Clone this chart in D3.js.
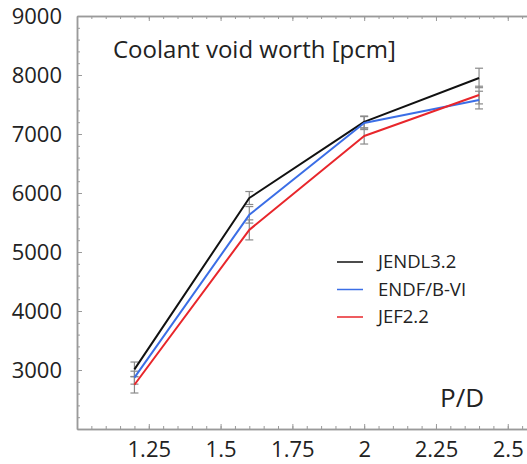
<!DOCTYPE html>
<html>
<head>
<meta charset="utf-8">
<script src="https://cdn.jsdelivr.net/npm/d3@7"></script>
<style>
  html, body { margin: 0; padding: 0; background: #fff; }
  svg { display: block; font-family: "Open Sans", sans-serif; }
</style>
</head>
<body>
<svg id="chart" width="527" height="464"></svg>
<script>
// P/D values and coolant void worth [pcm]
const pitchRatios = [1.2, 1.6, 2.0, 2.4];
const jendlValues = [3010, 5915, 7205, 7950];
const endfValues = [2870, 5630, 7185, 7575];
const jefValues = [2750, 5375, 6965, 7660];
const jendlErrors = [125, 110, 100, 165];
const endfErrors = [110, 140, 110, 150];
const jefErrors = [140, 170, 135, 150];

const xTicks = [1.25, 1.5, 1.75, 2, 2.25, 2.5];
const yTicks = [3000, 4000, 5000, 6000, 7000, 8000, 9000];

const seriesNames = ["JENDL3.2", "ENDF/B-VI", "JEF2.2"];
const seriesColors = ["#111111", "#3b6ee6", "#e8262b"];

const series = [
  { name: seriesNames[0], color: seriesColors[0], values: jendlValues, errors: jendlErrors },
  { name: seriesNames[1], color: seriesColors[1], values: endfValues, errors: endfErrors },
  { name: seriesNames[2], color: seriesColors[2], values: jefValues, errors: jefErrors },
];

const svg = d3.select("#chart");
const frame = { left: 77, right: 527, top: 16, bottom: 429 };
const axisColor = "#9a9a9a";

const x = d3.scaleLinear().domain([1.0, 2.567]).range([frame.left, frame.right]);
const y = d3.scaleLinear().domain([2000, 9000]).range([frame.bottom, frame.top]);

const minorX = d3.range(1.05, 2.56, 0.05);
const minorY = d3.range(2200, 9000, 200);

// Axes: ticks point into the plot
const styleAxis = (g) => {
  g.selectAll("path.domain").attr("stroke", axisColor).attr("stroke-width", 1.5);
  g.selectAll(".tick line").attr("stroke", axisColor).attr("stroke-width", 1);
};

svg.append("g")
  .attr("transform", `translate(0,${frame.bottom})`)
  .call(d3.axisBottom(x).tickValues(minorX).tickSize(-3).tickSizeOuter(0).tickFormat(""))
  .call(styleAxis);

svg.append("g")
  .attr("transform", `translate(0,${frame.bottom})`)
  .call(d3.axisBottom(x).tickValues(xTicks).tickSize(-5).tickSizeOuter(0).tickPadding(12).tickFormat(d3.format("~g")))
  .call(styleAxis)
  .call((g) => g.selectAll("text").attr("font-size", 22).attr("fill", "#222").attr("font-family", "Open Sans"));

svg.append("g")
  .attr("transform", `translate(0,${frame.top})`)
  .call(d3.axisTop(x).tickValues(minorX).tickSize(-3).tickSizeOuter(0).tickFormat(""))
  .call(styleAxis);

svg.append("g")
  .attr("transform", `translate(0,${frame.top})`)
  .call(d3.axisTop(x).tickValues(xTicks).tickSize(-5).tickSizeOuter(0).tickFormat(""))
  .call(styleAxis);

svg.append("g")
  .attr("transform", `translate(${frame.left},0)`)
  .call(d3.axisLeft(y).tickValues(minorY).tickSize(-3).tickSizeOuter(0).tickFormat(""))
  .call(styleAxis);

svg.append("g")
  .attr("transform", `translate(${frame.left},0)`)
  .call(d3.axisLeft(y).tickValues(yTicks).tickSize(-5).tickSizeOuter(0).tickPadding(15).tickFormat(d3.format("d")))
  .call(styleAxis)
  .call((g) => g.selectAll("text").attr("font-size", 22).attr("fill", "#222").attr("font-family", "Open Sans"));

// Error bars
const errGroup = svg.append("g").attr("stroke", "#8a8a8a").attr("stroke-width", 1.2);
series.forEach((s) => {
  pitchRatios.forEach((p, i) => {
    const cx = x(p);
    const top = y(s.values[i] + s.errors[i]);
    const bot = y(s.values[i] - s.errors[i]);
    errGroup.append("line").attr("x1", cx).attr("x2", cx).attr("y1", top).attr("y2", bot);
    errGroup.append("line").attr("x1", cx - 4).attr("x2", cx + 4).attr("y1", top).attr("y2", top);
    errGroup.append("line").attr("x1", cx - 4).attr("x2", cx + 4).attr("y1", bot).attr("y2", bot);
  });
});

// Lines
const line = d3.line()
  .x((d) => x(d[0]))
  .y((d) => y(d[1]));

svg.append("g")
  .selectAll("path")
  .data(series)
  .enter()
  .append("path")
  .attr("d", (s) => line(pitchRatios.map((p, i) => [p, s.values[i]])))
  .attr("fill", "none")
  .attr("stroke", (s) => s.color)
  .attr("stroke-width", 2)
  .attr("stroke-linejoin", "round");

// Title and axis name
svg.append("text")
  .attr("x", 113)
  .attr("y", 58)
  .attr("font-size", 24)
  .attr("fill", "#222")
  .text("Coolant void worth [pcm]");

svg.append("text")
  .attr("x", 440)
  .attr("y", 407)
  .attr("font-size", 26)
  .attr("fill", "#222")
  .text("P/D");

// Legend
const legend = svg.append("g").attr("transform", "translate(337,262)");
const rows = legend.selectAll("g")
  .data(series)
  .enter()
  .append("g")
  .attr("transform", (d, i) => `translate(0,${i * 27.5})`);

rows.append("line")
  .attr("x1", 0)
  .attr("x2", 26)
  .attr("stroke", (d) => d.color)
  .attr("stroke-width", 1.5);

rows.append("text")
  .attr("x", 41)
  .attr("dy", "0.35em")
  .attr("font-size", 18.5)
  .attr("fill", "#222")
  .text((d) => d.name);
</script>
</body>
</html>
